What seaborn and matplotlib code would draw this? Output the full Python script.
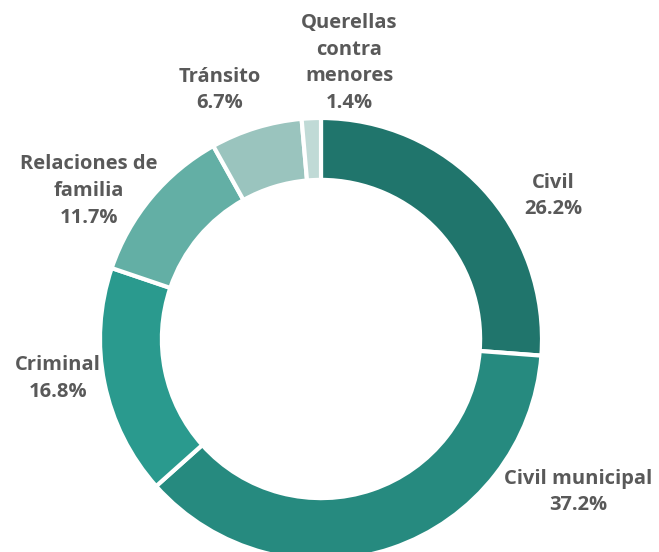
import matplotlib
matplotlib.use("Agg")
import matplotlib.pyplot as plt
import seaborn as sns
import numpy as np

# datos del gráfico de dona
categorias = ["Civil", "Civil municipal", "Criminal", "Relaciones de\nfamilia",
              "Tránsito", "Querellas\ncontra\nmenores"]
porcentajes = [26.2, 37.2, 16.8, 11.7, 6.7, 1.4]
colores = ["#20756c", "#268a7f", "#2a9a8e", "#63afa5", "#9ac4be", "#c0dad6"]

sns.set_theme(style="white")
plt.rcParams['font.family'] = ['Open Sans', 'DejaVu Sans']

fig = plt.figure(figsize=(6.59, 5.52), dpi=100)
ax = fig.add_axes([0, 0, 1, 1])

wedges, _ = ax.pie(
    porcentajes,
    colors=colores,
    startangle=90,
    counterclock=False,
    radius=1.0,
    wedgeprops=dict(width=0.28, edgecolor="white", linewidth=3),
)

# posición de cada etiqueta (en radios desde el centro)
pos_etiquetas = [(1.05, 0.647), (1.163, -0.692), (-1.19, -0.18),
                 (-1.05, 0.67), (-0.457, 1.127), (0.127, 1.249)]

for cat, val, (x, y) in zip(categorias, porcentajes, pos_etiquetas):
    ax.text(x, y, f"{cat}\n{val:.1f}%", ha="center", va="center",
            fontsize=14.5, fontweight="bold", color="#595959", linespacing=1.45)

ax.set_aspect("equal")
ax.set_xlim(-321 / 221, (659 - 321) / 221)
ax.set_ylim(-213 / 221, 339 / 221)
ax.axis("off")

fig.savefig("out.png", dpi=100)
